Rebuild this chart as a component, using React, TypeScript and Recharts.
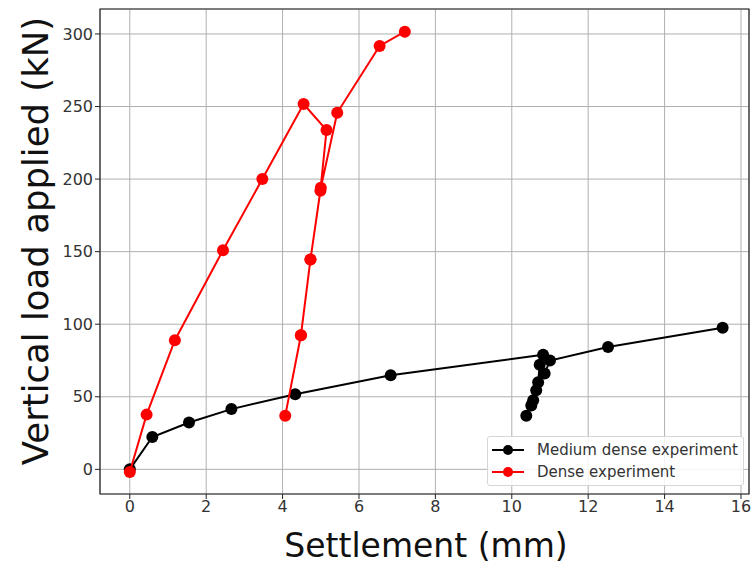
import {
  ReferenceArea,
  Scatter,
  ScatterChart,
  CartesianGrid,
  XAxis,
  YAxis,
  Label,
} from "recharts"

// Load–settlement curves, two sand densities (matplotlib-style figure)
const FONT = "'DejaVu Sans', Verdana, sans-serif"
const COLOR_MEDIUM = "#000000"
const COLOR_DENSE = "#ff0000"

// settlement (mm) and load (kN) in test order
const mediumSettlement = [0, 0.59, 1.55, 2.66, 4.33, 6.83, 10.82, 10.73, 10.69, 10.56, 10.38, 10.51, 10.64, 10.86, 11.0, 12.52, 15.52]
const mediumLoad = [0, 22.3, 32.3, 41.5, 51.8, 64.8, 79, 72, 60, 47.6, 37, 44, 54.5, 66, 75, 84.3, 97.5]

const denseSettlement = [0, 0.44, 1.18, 2.44, 3.47, 4.55, 5.15, 4.99, 4.73, 4.48, 4.07, 4.48, 4.73, 5.0, 5.43, 6.54, 7.2]
const denseLoad = [-1.8, 37.7, 89, 151, 200, 251.7, 233.8, 192, 144.6, 92.4, 37, 92.4, 144.6, 194, 245.7, 291.7, 301.6]

const xTicks = [0, 2, 4, 6, 8, 10, 12, 14, 16]
const yTicks = [0, 50, 100, 150, 200, 250, 300]
const X_DOMAIN: [number, number] = [-0.78, 16.21]
const Y_DOMAIN: [number, number] = [-17, 317.2]

const toPoints = (xs: number[], ys: number[]) => xs.map((x, i) => ({ x, y: ys[i] }))
const mediumData = toPoints(mediumSettlement, mediumLoad)
const denseData = toPoints(denseSettlement, denseLoad)

const dot = (color: string) => (p: any) => <circle cx={p.cx} cy={p.cy} r={6} fill={color} />

function LegendBox() {
  const rows = [
    { label: "Medium dense experiment", color: COLOR_MEDIUM },
    { label: "Dense experiment", color: COLOR_DENSE },
  ]
  return (
    <div
      style={{
        position: "absolute",
        left: 487,
        top: 436,
        width: 257,
        height: 50,
        boxSizing: "border-box",
        border: "1px solid #d6d6d6",
        borderRadius: 3,
        background: "rgba(255,255,255,0.85)",
        fontFamily: FONT,
        fontSize: 15,
        color: "#333",
        padding: "2px 0 0 2px",
      }}
    >
      {rows.map((r) => (
        <div key={r.label} style={{ display: "flex", alignItems: "center", height: 22 }}>
          <svg width={36} height={14} style={{ marginRight: 11 }}>
            <line x1={2} x2={34} y1={7} y2={7} stroke={r.color} strokeWidth={2} />
            <circle cx={18} cy={7} r={5} fill={r.color} />
          </svg>
          {r.label}
        </div>
      ))}
    </div>
  )
}

export default function App() {
  const tickStyle = { fontSize: 16, fill: "#333", fontFamily: FONT }
  return (
    <div style={{ position: "absolute", left: 0, top: 0, width: 752, height: 565, background: "#fff" }}>
      <ScatterChart width={752} height={565} margin={{ top: 9, right: 3, bottom: 0, left: 0 }}>
        <CartesianGrid stroke="#b0b0b0" strokeWidth={1} />
        <XAxis
          type="number"
          dataKey="x"
          domain={X_DOMAIN}
          ticks={xTicks}
          allowDataOverflow
          height={71}
          tick={tickStyle}
          tickSize={5}
          stroke="#222"
          axisLine={false}
        >
          <Label
            content={() => (
              <text
                x={426}
                y={545}
                textAnchor="middle"
                dominantBaseline="central"
                style={{ fontSize: 33, fill: "#111", fontFamily: FONT }}
              >
                Settlement (mm)
              </text>
            )}
          />
        </XAxis>
        <YAxis
          type="number"
          dataKey="y"
          domain={Y_DOMAIN}
          ticks={yTicks}
          allowDataOverflow
          width={100}
          tick={tickStyle}
          tickSize={5}
          stroke="#222"
          axisLine={false}
        >
          <Label
            content={() => (
              <text
                x={35}
                y={241}
                transform="rotate(-90 35 241)"
                textAnchor="middle"
                dominantBaseline="central"
                style={{ fontSize: 35.5, fill: "#111", fontFamily: FONT }}
              >
                Vertical load applied (kN)
              </text>
            )}
          />
        </YAxis>
        <ReferenceArea
          x1={X_DOMAIN[0]}
          x2={X_DOMAIN[1]}
          y1={Y_DOMAIN[0]}
          y2={Y_DOMAIN[1]}
          fill="none"
          stroke="#222"
          strokeWidth={1.2}
          ifOverflow="visible"
        />
        <Scatter
          data={mediumData}
          line={{ stroke: COLOR_MEDIUM, strokeWidth: 2 }}
          lineType="joint"
          shape={dot(COLOR_MEDIUM)}
          isAnimationActive={false}
        />
        <Scatter
          data={denseData}
          line={{ stroke: COLOR_DENSE, strokeWidth: 2 }}
          lineType="joint"
          shape={dot(COLOR_DENSE)}
          isAnimationActive={false}
        />
      </ScatterChart>
      <LegendBox />
    </div>
  )
}
